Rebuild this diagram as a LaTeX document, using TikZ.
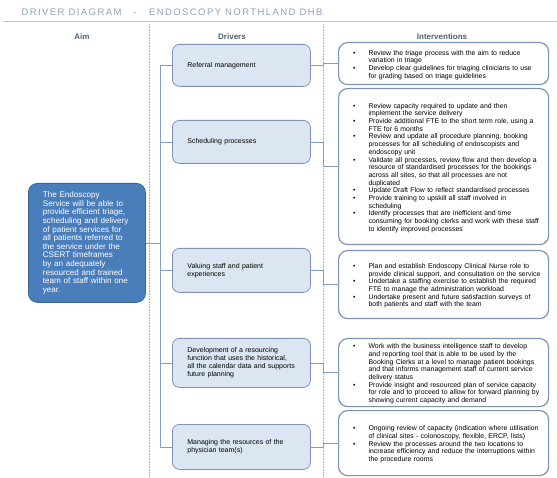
\documentclass[tikz,border=0pt]{standalone}
\usepackage{fontspec}
\setmainfont{Liberation Sans}
\usepackage{enumitem}
\setlist[itemize]{nosep,leftmargin=22pt,labelsep=13pt,label=\textbullet}
\definecolor{aimfill}{HTML}{4A7EBB}
\definecolor{aimline}{HTML}{3A6699}
\definecolor{drvfill}{HTML}{DCE6F2}
\definecolor{boxline}{HTML}{7E93B2}
\definecolor{linkcol}{HTML}{7F9CC6}
\definecolor{headcol}{HTML}{4F5F75}
\definecolor{titlecol}{HTML}{8EA2BE}
\tikzset{
  aimbox/.style={draw=aimline, fill=aimfill, line width=0.8pt, rounded corners=9pt, text=white,
    anchor=north west, minimum width=117pt, minimum height=119pt, text width=88pt,
    inner sep=0pt, align=left, font=\fontsize{8.1}{8.6}\selectfont},
  drvbox/.style={draw=boxline, fill=drvfill, line width=0.8pt, rounded corners=7pt,
    anchor=north west, minimum width=138pt, text width=108pt, inner xsep=15pt,
    align=left, font=\fontsize{7}{8}\selectfont},
  actbox/.style={draw=boxline, fill=white, line width=1.2pt, rounded corners=9pt,
    anchor=north west, minimum width=210pt, text width=194pt, inner xsep=8pt, inner ysep=2pt,
    align=left, font=\fontsize{6.9}{7.7}\selectfont},
  link/.style={draw=linkcol, line width=0.6pt},
  sepline/.style={draw=linkcol!80, densely dotted, line width=0.6pt},
  head/.style={font=\fontsize{8}{9}\selectfont\bfseries, text=headcol}
}
\begin{document}
\hyphenpenalty=10000
\exhyphenpenalty=10000
\begin{tikzpicture}[x=1pt,y=-1pt]
  \useasboundingbox[fill=white] (0,0) rectangle (557,478);
  \node[anchor=west, text=titlecol, font=\fontsize{9.5}{10}\selectfont\addfontfeatures{LetterSpace=15}] (title) at (18,12)
    {DRIVER DIAGRAM \ \ - \ \ ENDOSCOPY NORTHLAND DHB};
  \draw[draw=black!25, line width=0.8pt] (4,21) -- (557,21);
  \node[head] (haim) at (82,37) {Aim};
  \node[head] (hdrv) at (232,37) {Drivers};
  \node[head] (hact) at (442,37) {Interventions};
  \draw[sepline] (149,24) -- (149,478);
  \draw[sepline] (323,24) -- (323,478);
  \coordinate (bus) at (160,0);
  \coordinate (s2) at (323,0);

  \node[aimbox] (aim) at (28,183)
    {The Endoscopy Service will be able to provide efficient triage, scheduling and delivery of patient services for all patients referred to the service under the CSERT timeframes by an adequately resourced and trained team of staff within one year.};

  \node[drvbox, minimum height=42pt] (d1) at (172,44) {Referral management};
  \node[drvbox, minimum height=43pt] (d2) at (172,120) {Scheduling processes};
  \node[drvbox, minimum height=44pt] (d3) at (172,248) {Valuing staff and patient experiences};
  \node[drvbox, minimum height=49pt] (d4) at (172,338)
    {Development of a resourcing function that uses the historical, all the calendar data and supports future planning};
  \node[drvbox, minimum height=45pt] (d5) at (172,424) {Managing the resources of the physician team(s)};

  \node[actbox, minimum height=42pt] (i1) at (338,42) {\begin{itemize}
    \item Review the triage process with the aim to reduce variation in triage
    \item Develop clear guidelines for triaging clinicians to use for grading based on triage guidelines
  \end{itemize}};
  \node[actbox, minimum height=156pt] (i2) at (338,88) {\begin{itemize}
    \item Review capacity required to update and then implement the service delivery
    \item Provide additional FTE to the short term role, using a FTE for 6 months
    \item Review and update all procedure planning, booking processes for all scheduling of endoscopists and endoscopy unit
    \item Validate all processes, review flow and then develop a resource of standardised processes for the bookings across all sites, so that all processes are not duplicated
    \item Update Draft Flow to reflect standardised processes
    \item Provide training to upskill all staff involved in scheduling
    \item Identify processes that are inefficient and time consuming for booking clerks and work with these staff to identify improved processes
  \end{itemize}};
  \node[actbox, minimum height=68pt] (i3) at (338,250) {\begin{itemize}
    \item Plan and establish Endoscopy Clinical Nurse role to provide clinical support, and consultation on the service
    \item Undertake a staffing exercise to establish the required FTE to manage the administration workload
    \item Undertake present and future satisfaction surveys of both patients and staff with the team
  \end{itemize}};
  \node[actbox, minimum height=68pt] (i4) at (338,338) {\begin{itemize}
    \item Work with the business intelligence staff to develop and reporting tool that is able to be used by the Booking Clerks at a level to manage patient bookings and that informs management staff of current service delivery status
    \item Provide insight and resourced plan of service capacity for role and to proceed to allow for forward planning by showing current capacity and demand
  \end{itemize}};
  \node[actbox, minimum height=65pt] (i5) at (338,410) {\begin{itemize}
    \item Ongoing review of capacity (indication where utilisation of clinical sites - colonoscopy, flexible, ERCP, lists)
    \item Review the processes around the two locations to increase efficiency and reduce the interruptions within the procedure rooms
  \end{itemize}};

  \begin{scope}[link]
    \draw (aim.east) -- (aim.east -| bus);
    \draw (d1.west -| bus) -- (d5.west -| bus);
    \foreach \d in {d1,d2,d3,d4,d5}
      \draw (\d.west -| bus) -- (\d.west);
    \foreach \d/\i in {d1/i1,d2/i2,d3/i3,d4/i4,d5/i5}
      \draw (\d.east) -- (\d.east -| s2) |- (\i.west);
  \end{scope}
\end{tikzpicture}
\end{document}
